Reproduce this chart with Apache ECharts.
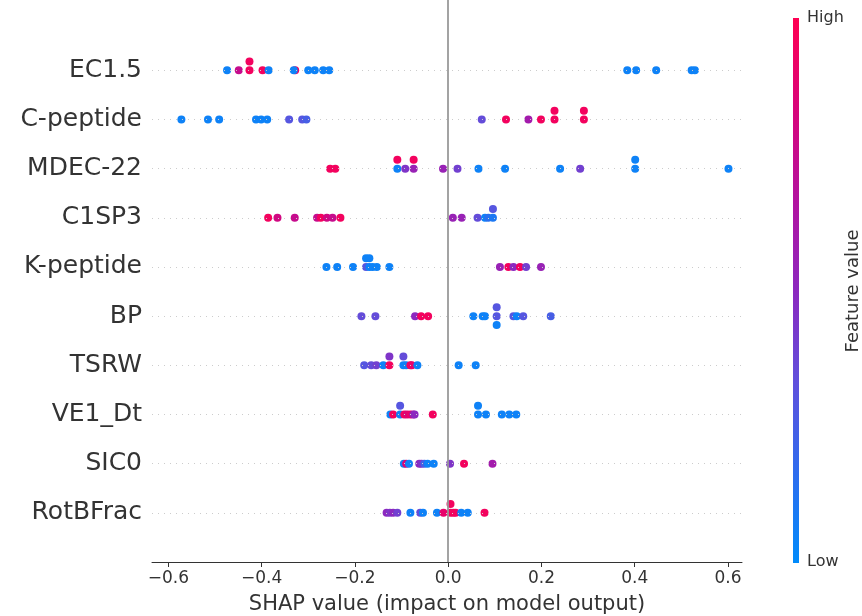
<!DOCTYPE html>
<html><head><meta charset="utf-8">
<script src="https://cdn.jsdelivr.net/npm/echarts@6/dist/echarts.min.js"></script>
<style>html,body{margin:0;padding:0;background:#fff}#c{width:862px;height:616px}</style>
</head><body><div id="c"></div>
<script>
// Features, top to bottom
const features = ['EC1.5','C-peptide','MDEC-22','C1SP3','K-peptide','BP','TSRW','VE1_Dt','SIC0','RotBFrac'];
// x-axis tick labels
const xTicks = [-0.6,-0.4,-0.2,0.0,0.2,0.4,0.6];

// SHAP values and normalized feature values (0 = low, 1 = high) per feature
const shapEC15 = [-0.474,-0.449,-0.426,-0.426,-0.398,-0.385,-0.328,-0.331,-0.300,-0.286,-0.268,-0.255,0.384,0.403,0.446,0.522,0.529];
const featEC15 = [0.05,0.75,0.95,0.95,0.95,0.05,0.95,0.05,0.05,0.05,0.05,0.05,0.05,0.05,0.05,0.05,0.05];

const shapCpep = [-0.572,-0.515,-0.491,-0.412,-0.401,-0.388,-0.341,-0.313,-0.304,0.072,0.124,0.172,0.199,0.228,0.228,0.291,0.291];
const featCpep = [0.05,0.05,0.05,0.05,0.05,0.05,0.3,0.3,0.25,0.35,0.95,0.6,0.95,0.95,0.95,0.95,0.95];

const shapMDEC = [-0.253,-0.242,-0.109,-0.109,-0.092,-0.074,-0.074,-0.011,0.020,0.065,0.122,0.240,0.283,0.401,0.401,0.601];
const featMDEC = [0.95,0.95,0.05,0.95,0.45,0.55,0.95,0.55,0.4,0.05,0.05,0.05,0.4,0.05,0.05,0.05];

const shapC1SP3 = [-0.386,-0.366,-0.329,-0.281,-0.273,-0.260,-0.248,-0.231,0.010,0.029,0.063,0.079,0.086,0.096,0.096];
const featC1SP3 = [0.95,0.8,0.75,0.75,0.95,0.8,0.75,0.95,0.55,0.55,0.35,0.05,0.15,0.1,0.3];

const shapKpep = [-0.261,-0.238,-0.204,-0.176,-0.176,-0.169,-0.169,-0.162,-0.153,-0.126,0.111,0.129,0.140,0.154,0.167,0.199];
const featKpep = [0.05,0.05,0.05,0.3,0.05,0.05,0.05,0.05,0.05,0.05,0.55,0.95,0.5,0.95,0.4,0.55];

const shapBP = [-0.186,-0.156,-0.071,-0.058,-0.043,0.054,0.074,0.079,0.104,0.104,0.104,0.140,0.147,0.161,0.220];
const featBP = [0.35,0.35,0.5,0.95,0.95,0.05,0.05,0.05,0.3,0.3,0.05,0.3,0.05,0.3,0.25];

const shapTSRW = [-0.180,-0.165,-0.154,-0.139,-0.126,-0.126,-0.096,-0.096,-0.090,-0.081,-0.078,-0.066,0.0225,0.059];
const featTSRW = [0.3,0.35,0.4,0.05,0.95,0.45,0.05,0.35,0.05,0.95,0.9,0.05,0.05,0.05];

const shapVE1 = [-0.124,-0.118,-0.103,-0.103,-0.094,-0.088,-0.081,-0.075,-0.072,-0.033,0.064,0.064,0.081,0.115,0.131,0.146];
const featVE1 = [0.05,0.95,0.05,0.3,0.95,0.85,0.9,0.65,0.5,0.95,0.05,0.05,0.05,0.05,0.05,0.05];

const shapSIC0 = [-0.095,-0.090,-0.084,-0.062,-0.057,-0.051,-0.044,-0.031,0.004,0.034,0.095];
const featSIC0 = [0.05,0.85,0.05,0.5,0.45,0.25,0.05,0.05,0.45,0.95,0.6];

const shapRotB = [-0.132,-0.125,-0.118,-0.109,-0.081,-0.060,-0.054,-0.024,-0.010,0.005,0.005,0.011,0.016,0.028,0.042,0.078];
const featRotB = [0.5,0.45,0.5,0.4,0.05,0.35,0.05,0.05,0.9,0.95,0.95,0.95,0.95,0.05,0.05,0.95];

const shapRows = [shapEC15,shapCpep,shapMDEC,shapC1SP3,shapKpep,shapBP,shapTSRW,shapVE1,shapSIC0,shapRotB];
const featRows = [featEC15,featCpep,featMDEC,featC1SP3,featKpep,featBP,featTSRW,featVE1,featSIC0,featRotB];

// SHAP colormap (blue -> red)
const cmap = ['#008bfb','#2e6cee','#6050dc','#8c28bf','#b3139f','#d8057a','#ff0052'];

// beeswarm vertical layout (as in shap)
function swarm(vals){
  const N = vals.length, nbins = 100;
  const mn = Math.min(...vals), mx = Math.max(...vals);
  const quant = vals.map(v => Math.round(nbins*(v-mn)/(mx-mn+1e-8)));
  const inds = vals.map((_,i)=>i).sort((a,b)=>quant[a]-quant[b] || a-b);
  let layer = 0, last = -1; const ys = new Array(N).fill(0);
  for (const i of inds){
    if (quant[i] !== last) layer = 0;
    ys[i] = Math.ceil(layer/2)*((layer%2)*2-1);
    layer++; last = quant[i];
  }
  const m = Math.max(...ys.map(y=>y+1));
  return ys.map(y => y*0.9*(0.4/m));
}

const nF = features.length;
const points = [];
shapRows.forEach((vals, r) => {
  const pos = nF-1-r;
  const off = swarm(vals);
  vals.forEach((v,i) => points.push([v, pos+off[i], featRows[r][i]]));
});
const rowLines = features.map((_,r)=>({yAxis: nF-1-r}));

const FONT = 'DejaVu Sans';
const chart = echarts.init(document.getElementById('c'), null, {renderer:'canvas'});
chart.setOption({
  backgroundColor:'#ffffff',
  animation:false,
  grid:{left:152, right:120, top:0, bottom:54, containLabel:false, outerBoundsMode:'none'},
  xAxis:{
    type:'value', min:-0.635, max:0.63,
    axisLine:{show:true, onZero:false, lineStyle:{color:'#333333', width:1}},
    axisTick:{show:true, customValues:xTicks, length:5, lineStyle:{color:'#333333', width:1}},
    axisLabel:{customValues:xTicks, color:'#333333', fontSize:17, fontFamily:FONT, margin:8,
      formatter:v => (v<0?'\u2212':'')+Math.abs(v).toFixed(1)},
    splitLine:{show:false},
    name:'SHAP value (impact on model output)', nameLocation:'middle', nameGap:32,
    nameTextStyle:{color:'#333333', fontSize:21, fontFamily:FONT}
  },
  yAxis:{
    type:'value', min:-1, max:10.43, interval:1,
    axisLine:{show:false}, axisTick:{show:false}, splitLine:{show:false},
    axisLabel:{color:'#333333', fontSize:25, fontFamily:FONT, margin:10,
      formatter:v => (Number.isInteger(v) && v>=0 && v<nF) ? features[nF-1-v] : ''}
  },
  visualMap:{show:false, type:'continuous', dimension:2, min:0, max:1, seriesIndex:1,
    inRange:{color:cmap}},
  series:[
    {type:'scatter', data:[], z:1, silent:true,
     markLine:{silent:true, symbol:'none', label:{show:false}, animation:false,
       data: rowLines.map(d=>Object.assign({}, d, {lineStyle:{color:'#cccccc', width:1, type:[1,5]}}))
         .concat([{xAxis:0, lineStyle:{color:'#999999', width:1.8, type:'solid'}}])}},
    {type:'scatter', data:points, symbolSize:8, z:3, itemStyle:{opacity:1}}
  ],
  graphic:[
    {type:'rect', shape:{x:793, y:18, width:6, height:545},
     style:{fill:new echarts.graphic.LinearGradient(0,0,0,1, cmap.slice().reverse().map((c,i,a)=>({offset:i/(a.length-1), color:c})))}},
    {type:'text', x:807, y:18, style:{text:'High', fill:'#333333', font:'16px "DejaVu Sans"', verticalAlign:'middle'}},
    {type:'text', x:807, y:562, style:{text:'Low', fill:'#333333', font:'16px "DejaVu Sans"', verticalAlign:'middle'}},
    {type:'text', x:853, y:291, rotation:Math.PI/2, style:{text:'Feature value', fill:'#333333', font:'18px "DejaVu Sans"', align:'center', verticalAlign:'middle'}}
  ]
});
</script></body></html>
